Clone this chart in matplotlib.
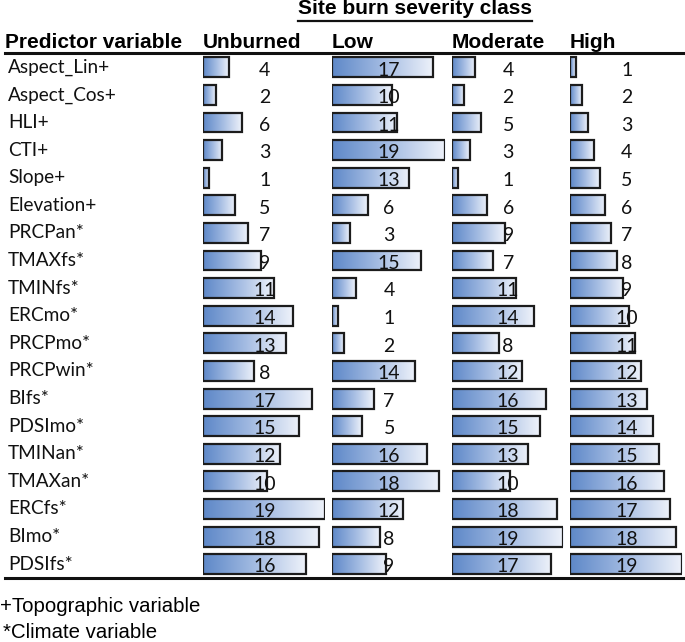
import numpy as np
import matplotlib
matplotlib.use("Agg")
import matplotlib.pyplot as plt
from matplotlib.colors import LinearSegmentedColormap
from matplotlib.lines import Line2D

predictors = ["Aspect_Lin+", "Aspect_Cos+", "HLI+", "CTI+", "Slope+", "Elevation+",
              "PRCPan*", "TMAXfs*", "TMINfs*", "ERCmo*", "PRCPmo*", "PRCPwin*",
              "BIfs*", "PDSImo*", "TMINan*", "TMAXan*", "ERCfs*", "BImo*", "PDSIfs*"]
classes = ["Unburned", "Low", "Moderate", "High"]
unburned = [4, 2, 6, 3, 1, 5, 7, 9, 11, 14, 13, 8, 17, 15, 12, 10, 19, 18, 16]
low = [17, 10, 11, 19, 13, 6, 3, 15, 4, 1, 2, 14, 7, 5, 16, 18, 12, 8, 9]
moderate = [4, 2, 5, 3, 1, 6, 9, 7, 11, 14, 8, 12, 16, 15, 13, 10, 18, 19, 17]
high = [1, 2, 3, 4, 5, 6, 7, 8, 9, 10, 11, 12, 13, 14, 15, 16, 17, 18, 19]
series = [unburned, low, moderate, high]

W, H = 685, 642
fig = plt.figure(figsize=(W / 100, H / 100), dpi=100)

LABEL_FONT = ["Lato", "DejaVu Sans"]
HEAD_FONT = ["Liberation Sans", "DejaVu Sans"]

cmap = LinearSegmentedColormap.from_list("g", ["#5e88c8", "#a3bbe2", "#eef2fa"])
grad = np.linspace(0, 1, 256).reshape(1, -1)

top_px, bot_px = 53.5, 578
n = len(predictors)
col_left = [203, 332, 452, 570]
col_scale = [6.42, 5.95, 5.85, 5.9]
xmax = 19

# label axes
lab_ax = fig.add_axes([0, 1 - bot_px / H, 200 / W, (bot_px - top_px) / H])
lab_ax.set_xlim(0, 1)
lab_ax.set_ylim(n - 0.5, -0.5)
lab_ax.axis("off")
for i, p in enumerate(predictors):
    lab_ax.text(8 / 200, i, p, ha="left", va="center", fontsize=13.7,
                family=LABEL_FONT, color="#111111")

bar_h = 0.72
for c, (vals, left, sc) in enumerate(zip(series, col_left, col_scale)):
    ax = fig.add_axes([left / W, 1 - bot_px / H, xmax * sc / W, (bot_px - top_px) / H])
    ax.axis("off")
    ys = np.arange(n)
    bars = ax.barh(ys, vals, height=bar_h, left=0, facecolor="none",
                   edgecolor="#1c1c1c", linewidth=1.6, zorder=3)
    for b, v, y in zip(bars, vals, ys):
        im = ax.imshow(grad, cmap=cmap, aspect="auto",
                       extent=(0, v, y + bar_h / 2, y - bar_h / 2), zorder=2,
                       interpolation="bilinear")
        im.set_clip_path(b)
        ax.text(9.6, y + 0.1, str(v), ha="center", va="center", fontsize=14,
                family=LABEL_FONT, color="#111111", zorder=4)
    ax.set_xlim(0, xmax)
    ax.set_ylim(n - 0.5, -0.5)
    fig.text(left / W, 1 - 42 / H, classes[c], ha="left", va="center",
             fontsize=15, fontweight="bold", family=HEAD_FONT)

fig.text(5 / W, 1 - 42 / H, "Predictor variable", ha="left", va="center",
         fontsize=15, fontweight="bold", family=HEAD_FONT)

# title with underline
t = fig.text(415 / W, 1 - 9 / H, "Site burn severity class", ha="center", va="center",
             fontsize=15, fontweight="bold", family=HEAD_FONT)
fig.canvas.draw()
bb = t.get_window_extent()
fig.add_artist(Line2D([bb.x0 / W, bb.x1 / W], [1 - 20.5 / H, 1 - 20.5 / H],
                      transform=fig.transFigure, color="#111111", lw=1.6))

# rules
fig.add_artist(Line2D([5 / W, 1.0], [1 - 53 / H, 1 - 53 / H], transform=fig.transFigure,
                      color="#111111", lw=2.2))
fig.add_artist(Line2D([5 / W, 1.0], [1 - 578 / H, 1 - 578 / H], transform=fig.transFigure,
                      color="#111111", lw=2.2))

fig.text(0 / W, 1 - 607 / H, "+Topographic variable", ha="left", va="center",
         fontsize=14.7, family=HEAD_FONT)
fig.text(3 / W, 1 - 633 / H, "*Climate variable", ha="left", va="center",
         fontsize=14.7, family=HEAD_FONT)

fig.savefig("out.png", dpi=100)
